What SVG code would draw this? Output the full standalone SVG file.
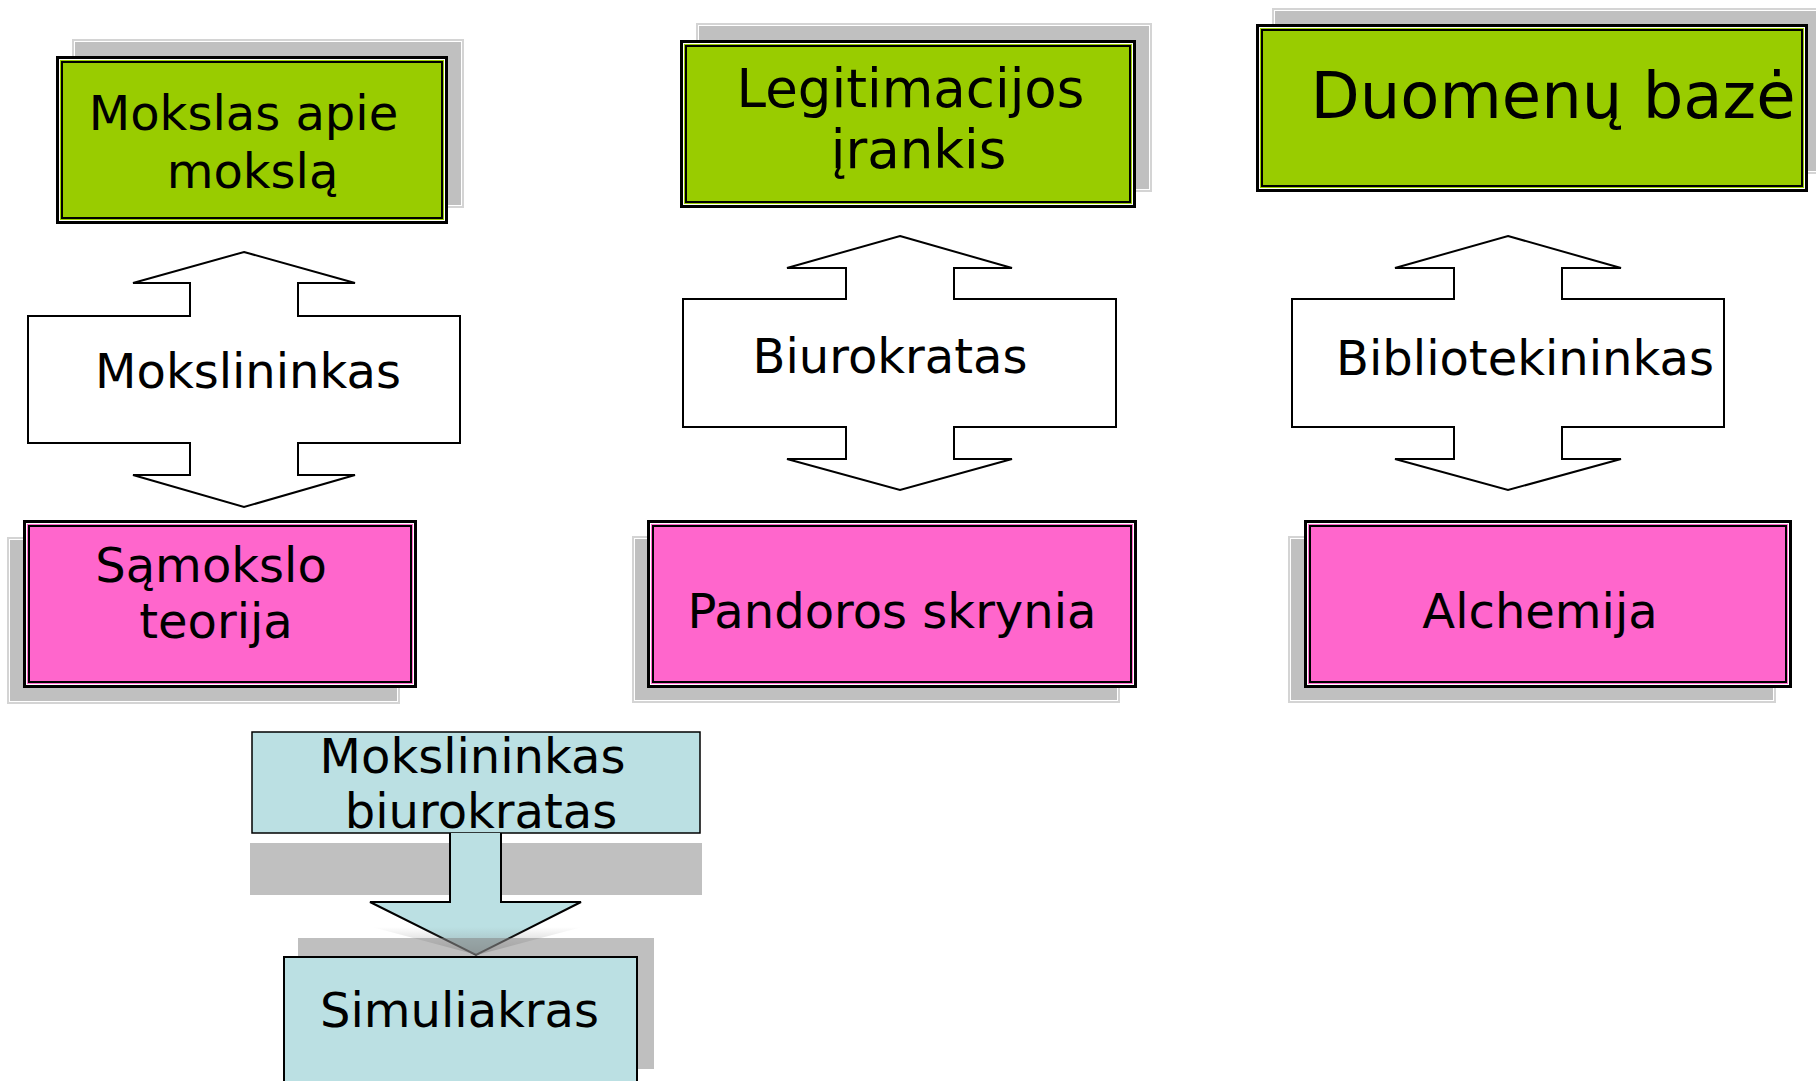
<svg xmlns="http://www.w3.org/2000/svg" width="1816" height="1081" viewBox="0 0 1816 1081">
<defs>
<style>
text{font-family:"DejaVu Sans",Verdana,"Liberation Sans",sans-serif;font-size:48px;fill:#000;text-anchor:middle}
.sh{fill:#c0c0c0;stroke:#d4d4d4;stroke-width:2}
.shi{fill:none;stroke:#fff;stroke-width:1}
.o{stroke:#000;stroke-width:3}
.w{fill:none;stroke:#fff;stroke-width:1}
.i{fill:none;stroke:#000;stroke-width:2}
.g{fill:#99cc00}
.p{fill:#ff66cc}
.dbl{fill:#fff;stroke:#000;stroke-width:2;stroke-linejoin:miter}
.cy{fill:#bbe0e3;stroke:#000;stroke-width:2}
</style>
<linearGradient id="fade" x1="0" y1="0" x2="0" y2="1">
<stop offset="0" stop-color="#808080" stop-opacity="0"/>
<stop offset="1" stop-color="#808080" stop-opacity="0.5"/>
</linearGradient>
</defs>
<rect width="1816" height="1081" fill="#fff"/>

<g id="mokslas-apie-moksla">
<rect class="sh" x="73" y="40" width="390" height="167"/>
<rect class="shi" x="74.5" y="41.5" width="387" height="164"/>
<rect class="g o" x="57.5" y="57.5" width="389" height="165"/>
<rect class="w" x="59.5" y="59.5" width="385" height="161"/>
<rect class="i" x="62" y="62" width="380" height="156"/>
<text x="243.5" y="130">Mokslas apie</text>
<text x="252.5" y="188">mokslą</text>
</g>

<g id="legitimacijos-irankis">
<rect class="sh" x="697" y="24" width="454" height="167"/>
<rect class="shi" x="698.5" y="25.5" width="451" height="164"/>
<rect class="g o" x="681.5" y="41.5" width="453" height="165"/>
<rect class="w" x="683.5" y="43.5" width="449" height="161"/>
<rect class="i" x="686" y="46" width="444" height="156"/>
<text x="910.5" y="107" style="font-size:53px">Legitimacijos</text>
<text x="918.5" y="168" style="font-size:53px">įrankis</text>
</g>

<g id="duomenu-baze">
<rect class="sh" x="1273" y="9" width="560" height="164"/>
<rect class="shi" x="1274.5" y="10.5" width="560" height="161"/>
<rect class="g o" x="1257.5" y="25.5" width="549" height="165"/>
<rect class="w" x="1259.5" y="27.5" width="545" height="161"/>
<rect class="i" x="1262" y="30" width="540" height="156"/>
<text x="1553" y="118" style="font-size:64px">Duomenų bazė</text>
</g>

<g id="mokslininkas">
<path class="dbl" d="M244,252 L355,283 L298,283 L298,316 L460,316 L460,443 L298,443 L298,475 L355,475 L244,507 L133,475 L190,475 L190,443 L28,443 L28,316 L190,316 L190,283 L133,283 Z"/>
<text x="248" y="388">Mokslininkas</text>
</g>

<g id="biurokratas">
<path class="dbl" d="M900,236 L1012,268 L954,268 L954,299 L1116,299 L1116,427 L954,427 L954,459 L1012,459 L900,490 L787,459 L846,459 L846,427 L683,427 L683,299 L846,299 L846,268 L787,268 Z"/>
<text x="890" y="373">Biurokratas</text>
</g>

<g id="bibliotekininkas">
<path class="dbl" d="M1508,236 L1621,268 L1562,268 L1562,299 L1724,299 L1724,427 L1562,427 L1562,459 L1621,459 L1508,490 L1395,459 L1454,459 L1454,427 L1292,427 L1292,299 L1454,299 L1454,268 L1395,268 Z"/>
<text x="1525" y="375">Bibliotekininkas</text>
</g>

<g id="samokslo-teorija">
<rect class="sh" x="8" y="538" width="391" height="165"/>
<rect class="shi" x="9.5" y="539.5" width="388" height="162"/>
<rect class="p o" x="24.5" y="521.5" width="391" height="165"/>
<rect class="w" x="26.5" y="523.5" width="387" height="161"/>
<rect class="i" x="29" y="526" width="382" height="156"/>
<text x="211" y="582">Sąmokslo</text>
<text x="216" y="638">teorija</text>
</g>

<g id="pandoros-skrynia">
<rect class="sh" x="633" y="537" width="486" height="165"/>
<rect class="shi" x="634.5" y="538.5" width="483" height="162"/>
<rect class="p o" x="648.5" y="521.5" width="487" height="165"/>
<rect class="w" x="650.5" y="523.5" width="483" height="161"/>
<rect class="i" x="653" y="526" width="478" height="156"/>
<text x="892" y="628">Pandoros skrynia</text>
</g>

<g id="alchemija">
<rect class="sh" x="1289" y="537" width="486" height="165"/>
<rect class="shi" x="1290.5" y="538.5" width="483" height="162"/>
<rect class="p o" x="1305.5" y="521.5" width="485" height="165"/>
<rect class="w" x="1307.5" y="523.5" width="481" height="161"/>
<rect class="i" x="1310" y="526" width="476" height="156"/>
<text x="1540" y="628">Alchemija</text>
</g>

<g id="mokslininkas-biurokratas">
<rect x="250" y="843" width="452" height="52" fill="#c0c0c0"/>
<rect class="cy" x="252" y="732" width="448" height="101" style="stroke-width:1.5"/>
<text x="472.5" y="773">Mokslininkas</text>
<text x="481" y="828">biurokratas</text>
</g>

<g id="connectors">
<path d="M450,833 L450,902 L370,902 L476,955 L581,902 L501,902 L501,833 Z" fill="#bbe0e3"/>
<path d="M450,833 L450,902 L370,902 L476,955 L581,902 L501,902 L501,833" fill="none" stroke="#000" stroke-width="2"/>
<polygon points="372,927 582,927 477,955" fill="url(#fade)"/>
</g>

<g id="simuliakras">
<rect x="298" y="938" width="356" height="131" fill="#808080" fill-opacity="0.5"/>
<rect class="cy" x="284" y="957" width="353" height="140"/>
<text x="459.5" y="1027">Simuliakras</text>
</g>
</svg>
